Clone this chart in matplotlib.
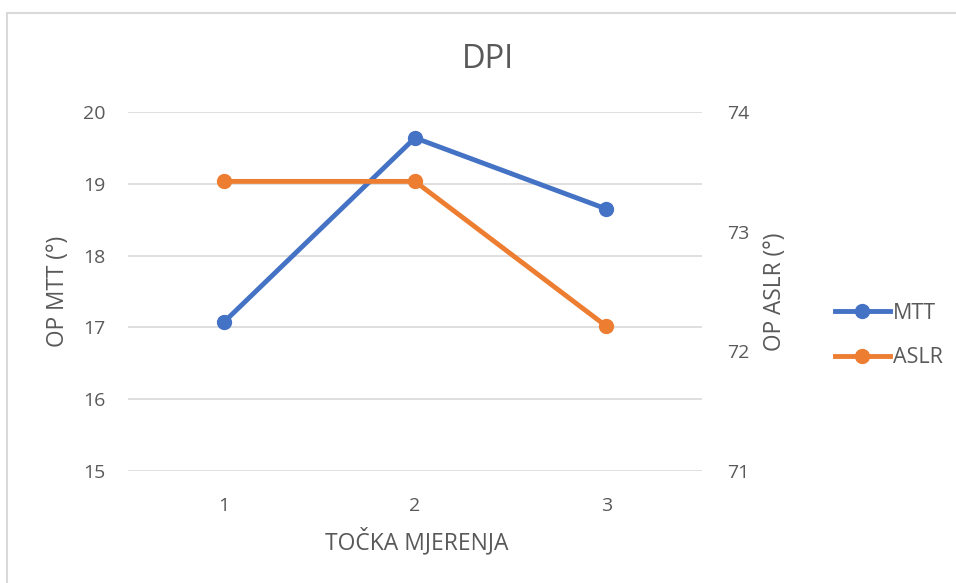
import matplotlib
matplotlib.use("Agg")
import matplotlib.pyplot as plt
from matplotlib.patches import Rectangle
from matplotlib.lines import Line2D

categories = ["1", "2", "3"]
mtt = [17.07, 19.64, 18.65]
aslr = [73.42, 73.42, 72.21]
left_ticks = [15, 16, 17, 18, 19, 20]
right_ticks = [71, 72, 73, 74]

plt.rcParams['font.family'] = ['Open Sans', 'DejaVu Sans']
TXT = '#595959'
GRID = '#D9D9D9'
BLUE = '#4472C4'
ORANGE = '#ED7D31'

fig = plt.figure(figsize=(9.56, 5.83), dpi=100)
W, H = 956, 583
ax = fig.add_axes([128 / W, 1 - 471 / H, (702 - 128) / W, (471 - 112) / H])
ax2 = ax.twinx()

x = list(range(1, len(categories) + 1))
ax.plot(x, mtt, color=BLUE, lw=3.5, marker='o', ms=10, solid_capstyle='round', zorder=3)
ax2.plot(x, aslr, color=ORANGE, lw=3.5, marker='o', ms=10, solid_capstyle='round', zorder=3)

ax.set_xlim(0.5, len(categories) + 0.5)
ax.set_ylim(15, 20)
ax2.set_ylim(71, 74)
ax.set_xticks(x)
ax.set_xticklabels(categories)
ax.set_yticks(left_ticks)
ax2.set_yticks(right_ticks)

for a in (ax, ax2):
    for s in a.spines.values():
        s.set_visible(False)
    a.tick_params(length=0, labelsize=14, colors=TXT)
ax.tick_params(axis='y', pad=16.5)
ax2.tick_params(axis='y', pad=18)
ax.tick_params(axis='x', pad=19)
ax.grid(axis='y', color=GRID, lw=1.2)
ax.set_axisbelow(True)
ax2.set_zorder(ax.get_zorder() + 1)
ax2.patch.set_visible(False)

fig.text(58 / W, 1 - 291.5 / H, 'OP MTT (°)', fontsize=16.3, color=TXT,
         rotation=90, ha='center', va='center')
fig.text(775 / W, 1 - 291.5 / H, 'OP ASLR (°)', fontsize=16.3, color=TXT,
         rotation=90, ha='center', va='center')
fig.text(417 / W, 1 - 542 / H, 'TOČKA MJERENJA', fontsize=16.5, color=TXT,
         ha='center', va='center')
fig.text(488 / W, 1 - 60 / H, 'DPI', fontsize=23.5, color=TXT, ha='center', va='center')

handles = [Line2D([0], [0], color=BLUE, lw=3.5, marker='o', ms=10),
           Line2D([0], [0], color=ORANGE, lw=3.5, marker='o', ms=10)]
leg = fig.legend(handles, ['MTT', 'ASLR'], loc='center left',
                 bbox_to_anchor=(835 / W, 1 - 335.5 / H), frameon=False,
                 borderpad=0, borderaxespad=0,
                 fontsize=15.5, labelspacing=1.1, handlelength=2.55, handletextpad=0.15)
for t in leg.get_texts():
    t.set_color(TXT)

fig.patches.append(Rectangle((7 / W, -0.1), 1.2, 1.1 - 13 / H, transform=fig.transFigure,
                             fill=False, edgecolor=GRID, lw=1.5, clip_on=False))

fig.savefig('out.png', dpi=100)
